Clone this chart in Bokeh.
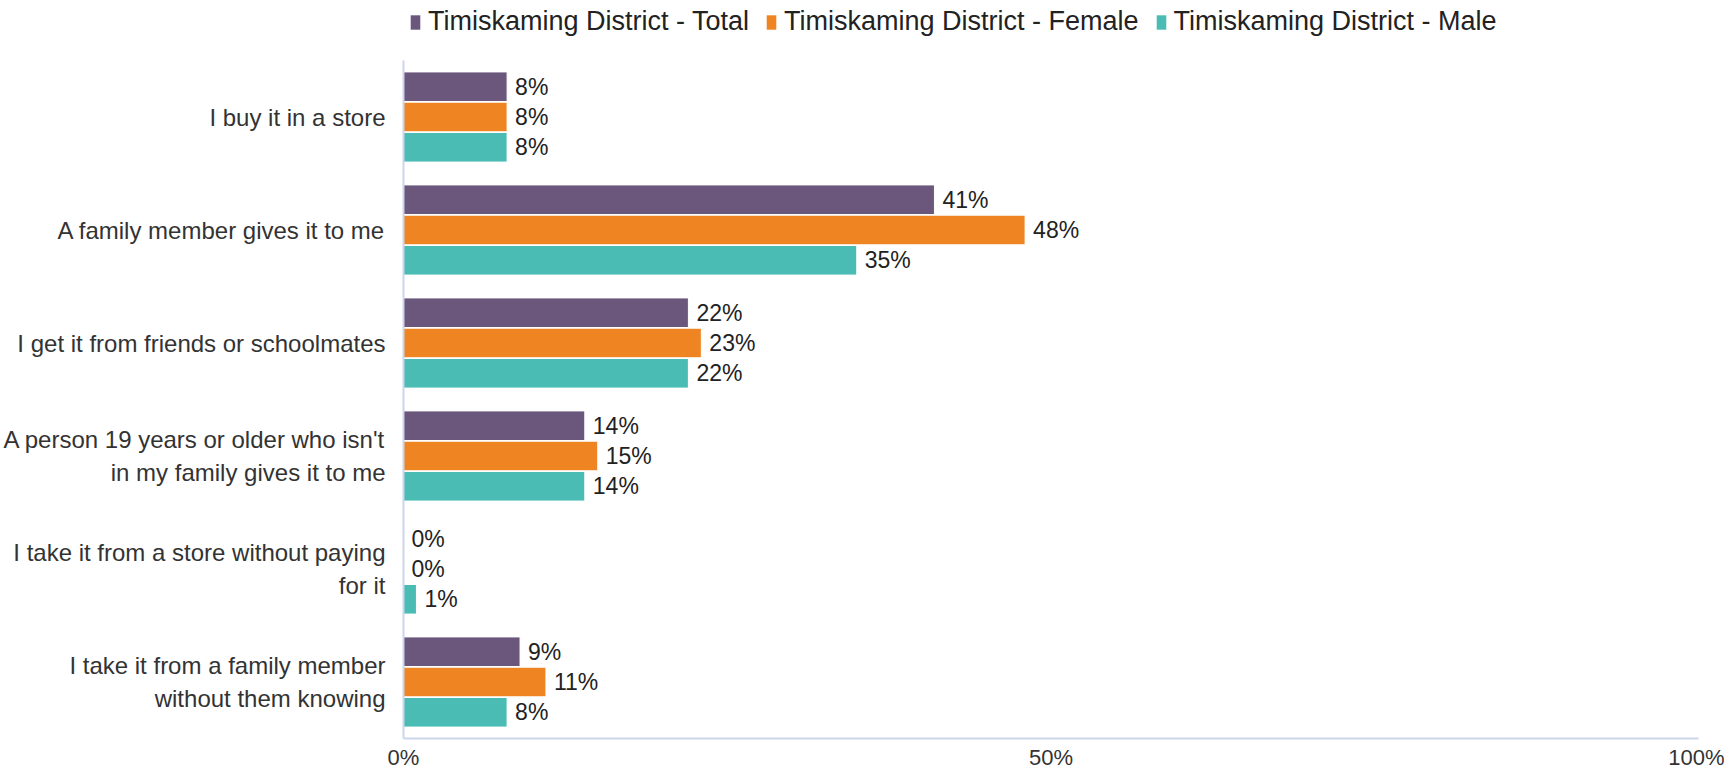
from bokeh.plotting import figure
from bokeh.layouts import column
from bokeh.models import (ColumnDataSource, FactorRange, Range1d, FixedTicker,
                          Legend, LegendItem)
from bokeh.transform import dodge
from bokeh.core.properties import value
from bokeh.embed import file_html
from bokeh.resources import INLINE

categories = [
    "I buy it in a store",
    "A family member gives it to me",
    "I get it from friends or schoolmates",
    "A person 19 years or older who isn't\nin my family gives it to me",
    "I take it from a store without paying\nfor it",
    "I take it from a family member\nwithout them knowing",
]
series_names = ["Timiskaming District - Total", "Timiskaming District - Female", "Timiskaming District - Male"]
total = [8, 41, 22, 14, 0, 9]
female = [8, 48, 23, 15, 0, 11]
male = [8, 35, 22, 14, 1, 8]
x_ticks = [0, 50, 100]
x_tick_labels = ["0%", "50%", "100%"]

colors = ["#6a577b", "#ef8522", "#4bbcb4"]
offsets = [0.268, 0.0, -0.268]
FONT = "Liberation Sans"

p = figure(frame_width=1295, frame_height=678, output_backend="svg", toolbar_location=None,
           x_range=Range1d(0, 100),
           y_range=FactorRange(factors=list(reversed(categories)), range_padding=0),
           min_border_left=0, min_border_right=26, min_border_top=0, min_border_bottom=0)
p.outline_line_color = None
p.xgrid.visible = False
p.ygrid.visible = False
p.background_fill_color = "white"
p.border_fill_color = "white"

# legend-only figure on top (its proxy renderers sit outside its visible range)
lf = figure(width=1717, height=60, output_backend="svg", toolbar_location=None,
            x_range=Range1d(0, 1), y_range=Range1d(0, 1),
            x_axis_location=None, y_axis_location=None,
            min_border_left=212, min_border_right=0, min_border_top=0, min_border_bottom=0)
lf.grid.visible = False
lf.outline_line_color = None

items = []
for name, vals, col, off in zip(series_names, [total, female, male], colors, offsets):
    src = ColumnDataSource(dict(cat=categories, v=vals, lab=[f"{v}%" for v in vals]))
    p.hbar(y=dodge("cat", off, range=p.y_range), right="v", left=0, height=0.262,
           source=src, fill_color=col, line_color="white", line_width=1)
    p.text(x="v", y=dodge("cat", off, range=p.y_range), text="lab", source=src,
           x_offset=8, text_baseline="middle", text_align="left",
           text_font=value(FONT), text_font_size="23px", text_color="#222222")
    lr = lf.hbar(y=[-5], right=[0], left=0, height=0.1, fill_color=col, line_color=None)
    items.append(LegendItem(label=name, renderers=[lr]))

# x axis
xa = p.xaxis[0]
xa.ticker = FixedTicker(ticks=x_ticks)
xa.major_label_overrides = {t: l for t, l in zip(x_ticks, x_tick_labels)}
xa.axis_line_color = "#ccd6eb"
xa.axis_line_width = 2
xa.major_tick_line_color = None
xa.minor_tick_line_color = None
xa.major_label_standoff = 0
xa.major_label_text_font = FONT
xa.major_label_text_font_size = "22px"
xa.major_label_text_color = "#333333"

ya = p.yaxis[0]
ya.axis_line_color = "#ccd6eb"
ya.axis_line_width = 2
ya.major_tick_line_color = None
ya.minor_tick_line_color = None
ya.major_label_standoff = 12
ya.major_label_text_font = FONT
ya.major_label_text_font_size = "24px"
ya.major_label_text_color = "#333333"

legend = Legend(items=items, orientation="horizontal", location="top_left",
                label_text_font=FONT, label_text_font_size="27px", label_text_color="#222222",
                glyph_width=12, glyph_height=18, label_standoff=7, spacing=16,
                padding=0, margin=6, border_line_color=None, background_fill_alpha=0)
lf.add_layout(legend)

layout = column(lf, p, spacing=0)
open("out.html", "w").write(file_html(layout, INLINE))
